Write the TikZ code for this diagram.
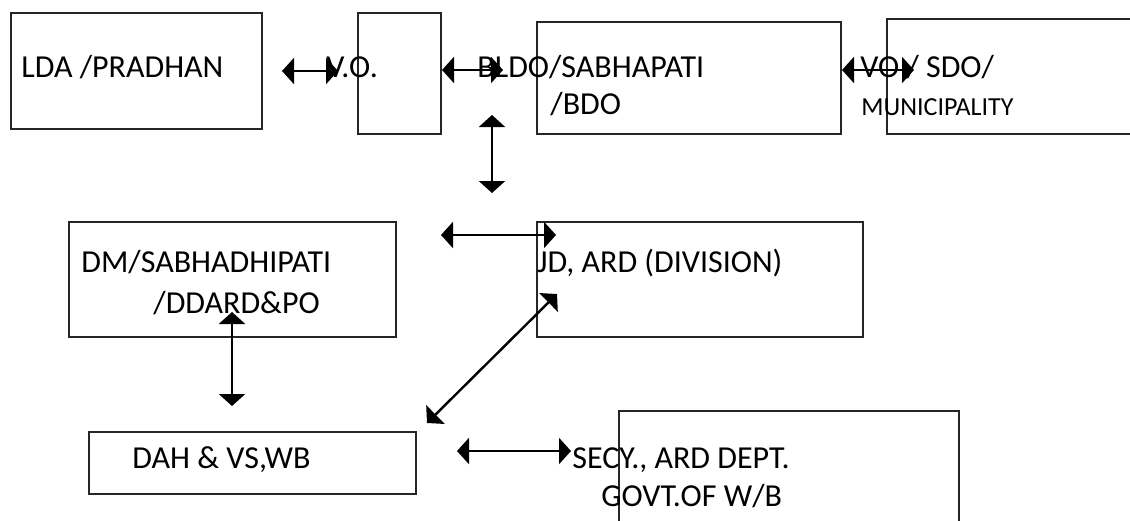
\documentclass[tikz,border=0pt]{standalone}
\usepackage{fontspec}
\setmainfont{Carlito}
\usetikzlibrary{arrows.meta,fit}
\begin{document}
\begin{tikzpicture}[x=0.5pt,y=-0.5pt,
  box/.style={draw=black!85, line width=0.6pt, inner sep=0pt, fit={#1}},
  lbl/.style={anchor=base west, inner sep=0pt, font=\fontsize{16}{19}\selectfont},
  small/.style={anchor=base west, inner sep=0pt, font=\fontsize{13}{15}\selectfont},
  link/.style={line width=1.2pt, {Triangle[length=6pt,width=13pt]}-{Triangle[length=6pt,width=13pt]}}]
\useasboundingbox (0,0) rectangle (1130,520);
\clip (0,0) rectangle (1130,520);

% boxes
\node[box={(11,13) (262,129)}] (lda) {};
\node[box={(358,13) (441,134)}] (vo) {};
\node[box={(537,22) (841,134)}] (bldo) {};
\node[box={(887,19) (1150,134)}] (sdo) {};
\node[box={(69,222) (396,337)}] (dm) {};
\node[box={(537,222) (863,337)}] (jd) {};
\node[box={(89,432) (416,494)}] (dah) {};
\node[box={(619,411) (959,540)}] (secy) {};

% texts
\node[lbl] (tlda) at (21,77) {LDA /PRADHAN};
\node[lbl] (tvo) at (326,77) {V.O.};
\node[lbl] (tbldo) at (477,77) {BLDO/SABHAPATI};
\node[lbl] (tbdo) at (550,114) {/BDO};
\node[lbl] (tsdo) at (860,77) {VO / SDO/};
\node[small] (tmun) at (861,115) {MUNICIPALITY};
\node[lbl] (tdm) at (81,272) {DM/SABHADHIPATI};
\node[lbl] (tdd) at (153,313) {/DDARD\&PO};
\node[lbl] (tjd) at (537,272) {JD, ARD (DIVISION)};
\node[lbl] (tdah) at (132,468) {DAH \& VS,WB};
\node[lbl] (tsecy) at (572,468) {SECY., ARD DEPT.};
\node[lbl] (tgovt) at (601,506) {GOVT.OF W/B};

% connector end points
\coordinate (a1s) at (282,71);  \coordinate (a1e) at (338,71);
\coordinate (a2s) at (442,70);  \coordinate (a2e) at (503,70);
\coordinate (a3s) at (842,70);  \coordinate (a3e) at (914,70);
\coordinate (a4s) at (492,115); \coordinate (a4e) at (492,193);
\coordinate (a5s) at (441,235); \coordinate (a5e) at (556,235);
\coordinate (a6s) at (232,312); \coordinate (a6e) at (232,406);
\coordinate (a7s) at (427,423); \coordinate (a7e) at (557,294);
\coordinate (a8s) at (457,451); \coordinate (a8e) at (571,451);

\draw[link] (a1s) -- (a1e);
\draw[link] (a2s) -- (a2e);
\draw[link] (a3s) -- (a3e);
\draw[link] (a4s) -- (a4e);
\draw[link] (a5s) -- (a5e);
\draw[link] (a6s) -- (a6e);
\draw[link] (a7s) -- (a7e);
\draw[link] (a8s) -- (a8e);
\end{tikzpicture}
\end{document}
